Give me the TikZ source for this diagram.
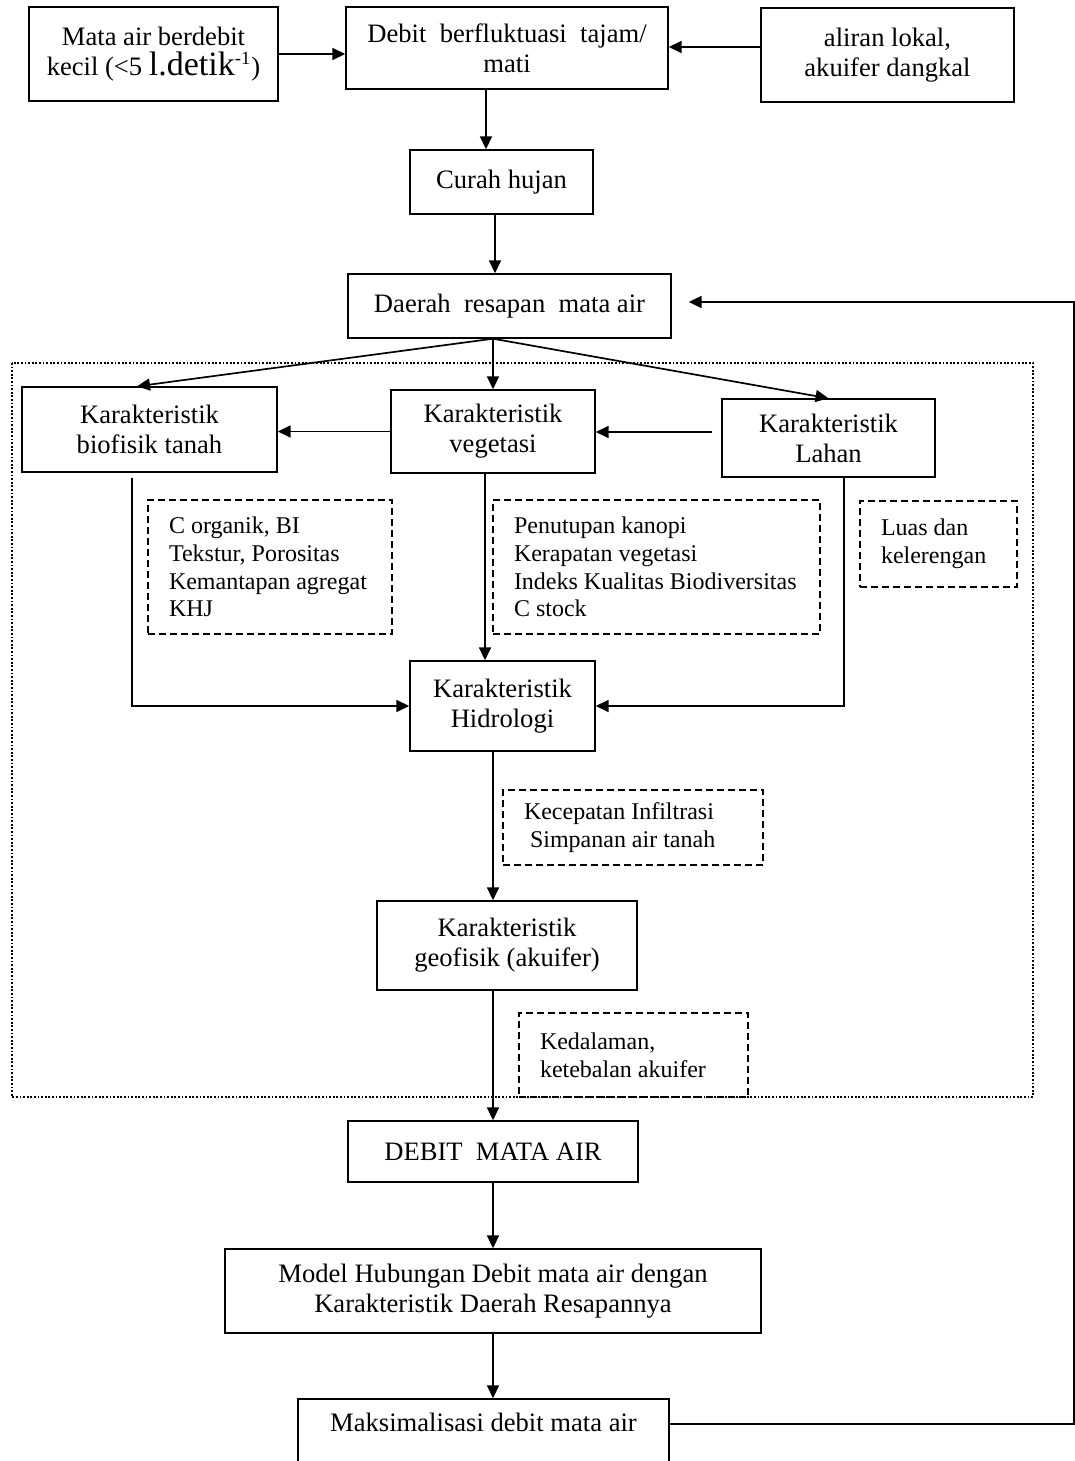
\documentclass[tikz,border=0pt]{standalone}
\usepackage{fontspec}
\setmainfont{Liberation Serif}
\usetikzlibrary{positioning, arrows.meta, calc}

\begin{document}
\begin{tikzpicture}[
    x=0.5pt, y=-0.5pt,
    > = {Triangle[length=6.5pt, width=6pt]}, line width=0.85pt,
    font=\fontsize{13.3}{15}\selectfont,
    box/.style={draw, line width=0.7pt, align=center, inner sep=0pt},
    note/.style={draw, line width=0.7pt, dash pattern=on 3.5pt off 2pt, align=flush left,
                 inner xsep=10.5pt, inner ysep=0pt, text width=#1,
                 font=\fontsize{12}{13.8}\selectfont},
    grp/.style={line width=1pt, dash pattern=on 0.9pt off 0.9pt}
]
    \useasboundingbox (0,0) rectangle (1075,1461);
    \clip (0,0) rectangle (1075,1461);

    % top row
    \node[box, minimum width=124.5pt, minimum height=47pt] (mab) at (153.5,54)
        {Mata air berdebit\\kecil (<5 {\fontsize{17}{17}\selectfont l.detik}\textsuperscript{-1})};
    \node[box, minimum width=161pt, minimum height=41pt] (dbf) at (507,48)
        {Debit~~berfluktuasi~~tajam/\\mati};
    \node[box, minimum width=126.5pt, minimum height=47pt] (alk) at (887.5,55)
        {aliran lokal,\\akuifer dangkal};

    \node[box, minimum width=91.5pt, minimum height=32pt] (crh) at (501.5,182) {Curah hujan};
    \node[box, minimum width=161.5pt, minimum height=32pt] (drm) at (509.5,306)
        {Daerah~~resapan~~mata air};

    % karakteristik daerah resapan
    \draw[grp] (12,363) rectangle (1033,1097);
    \node[box, minimum width=127.5pt, minimum height=42.5pt] (kbt) at (149.5,429.5)
        {Karakteristik\\biofisik tanah};
    \node[box, minimum width=102pt, minimum height=41.5pt] (kvg) at (493,431.5)
        {Karakteristik\\vegetasi};
    \node[box, minimum width=106.5pt, minimum height=39pt] (klh) at (828.5,438)
        {Karakteristik\\Lahan};

    \node[note=101pt, minimum height=67pt] (nbt) at (270,567)
        {C organik, BI\\Tekstur, Porositas\\\mbox{Kemantapan agregat}\\KHJ};
    \node[note=142.5pt, minimum height=67pt] (nvg) at (656.5,567)
        {Penutupan kanopi\\Kerapatan vegetasi\\\mbox{Indeks Kualitas Biodiversitas}\\C stock};
    \node[note=57.5pt, minimum height=43pt] (nlh) at (938.5,544)
        {Luas dan\\kelerengan};

    \node[box, minimum width=92.5pt, minimum height=45pt] (khd) at (502.5,706)
        {Karakteristik\\Hidrologi};
    \node[note=109pt, minimum height=37.5pt] (nhd) at (633,827.5)
        {Kecepatan Infiltrasi\\\hspace{3pt}Simpanan air tanah};
    \node[box, minimum width=130pt, minimum height=44.5pt] (kgf) at (507,945.5)
        {Karakteristik\\geofisik (akuifer)};
    \node[note=93.5pt, minimum height=42pt] (ngf) at (633.5,1055)
        {Kedalaman,\\ketebalan akuifer};

    % hasil
    \node[box, minimum width=145pt, minimum height=30.5pt] (dma) at (493,1151.5)
        {DEBIT~~MATA AIR};
    \node[box, minimum width=268pt, minimum height=42pt] (mhd) at (493,1291)
        {Model Hubungan Debit mata air dengan\\Karakteristik Daerah Resapannya};
    \node[box, minimum width=185.5pt, minimum height=43pt] (mks) at (483.5,1442)
        {Maksimalisasi debit mata air\\\strut};

    % arrows
    \draw[->] (mab.east) -- (mab.east -| dbf.west);
    \draw[->] ([yshift=4pt]alk.west) -- ([yshift=4pt]alk.west -| dbf.east);
    \draw[->] ([xshift=-10.5pt]dbf.south) -- ([xshift=-10.5pt]dbf.south |- crh.north);
    \draw[->] ([xshift=-3.25pt]crh.south) -- ([xshift=-3.25pt]crh.south |- drm.north);

    \coordinate (fork) at ([xshift=-8.25pt]drm.south);
    \draw[->] (fork) -- ([xshift=-6.25pt]kbt.north);
    \draw[->] (fork) -- (kvg.north);
    \draw[->] (fork) -- (klh.north);
    \draw[->] (kvg.west) -- (kvg.west -| kbt.east);
    \draw[->, shorten <=4.5pt] ([yshift=3pt]klh.west) -- ([yshift=3pt]klh.west -| kvg.east);

    \draw[->, shorten <=2.5pt] ([xshift=-8.75pt]kbt.south) |- (khd.west);
    \draw[->] ([xshift=-4pt]kvg.south) -- ([xshift=-4pt]kvg.south |- khd.north);
    \draw[->] ([xshift=7.75pt]klh.south) |- (khd.east);
    \draw[->] ([xshift=-4.75pt]khd.south) -- ([xshift=-4.75pt]khd.south |- kgf.north);
    \draw[->] ([xshift=-7pt]kgf.south) -- ([xshift=-7pt]kgf.south |- dma.north);
    \draw[->] (dma.south) -- (mhd.north);
    \draw[->] (mhd.south) -- (mhd.south |- mks.north);

    \coordinate (back) at (1074,302);
    \draw[->] ([yshift=9pt]mks.east) -| (back) -- ([shift={(8.5pt,2pt)}]drm.east);
\end{tikzpicture}
\end{document}
